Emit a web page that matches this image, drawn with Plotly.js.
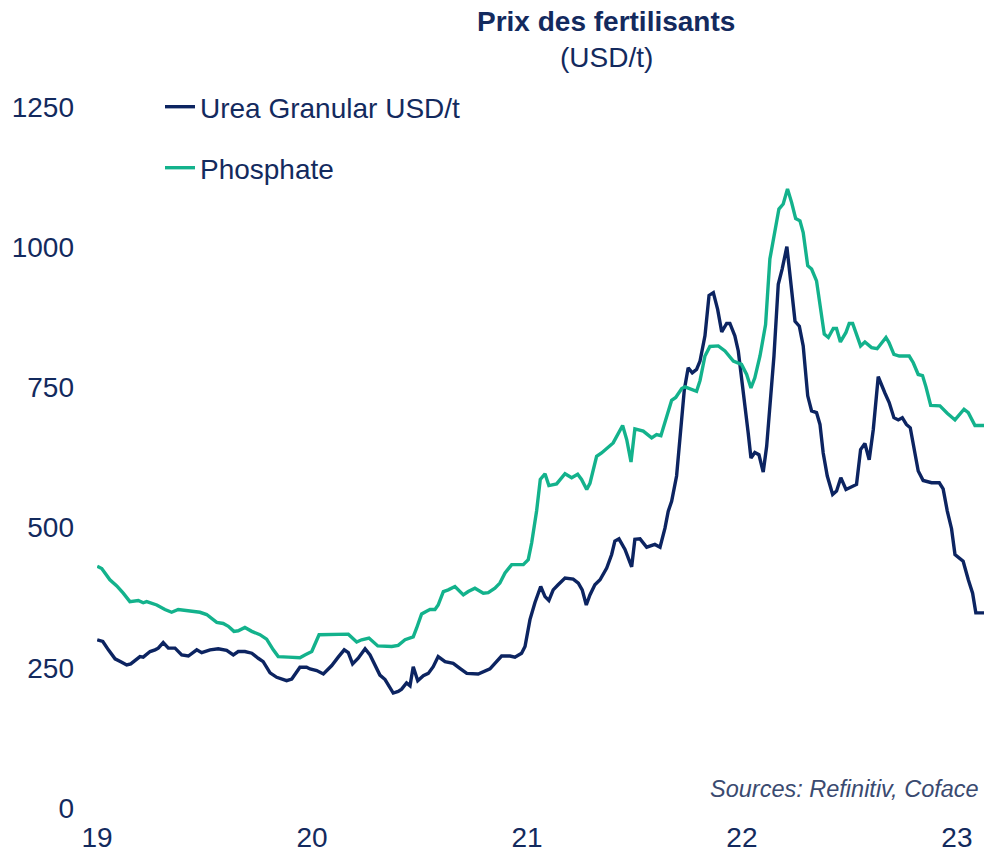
<!DOCTYPE html>
<html>
<head>
<meta charset="utf-8">
<script src="https://cdn.plot.ly/plotly-3.0.1.min.js"></script>
<style>html,body{margin:0;padding:0;background:#fff;}#chart{width:984px;height:853px;}</style>
</head>
<body>
<div id="chart"></div>
<script>
// x in years (19 = Jan 2019), y in USD/t
const ureaX = [19.001,19.027,19.053,19.084,19.115,19.138,19.157,19.177,19.200,19.215,19.247,19.270,19.285,19.308,19.332,19.363,19.394,19.425,19.464,19.487,19.526,19.564,19.603,19.634,19.657,19.688,19.720,19.750,19.773,19.805,19.836,19.882,19.906,19.944,19.975,19.991,20.022,20.053,20.092,20.122,20.150,20.169,20.189,20.215,20.247,20.270,20.293,20.316,20.340,20.378,20.401,20.417,20.440,20.456,20.471,20.492,20.518,20.541,20.564,20.587,20.619,20.657,20.688,20.720,20.773,20.828,20.851,20.882,20.921,20.944,20.975,20.991,21.014,21.037,21.064,21.084,21.102,21.122,21.145,21.177,21.215,21.239,21.257,21.276,21.293,21.316,21.340,21.371,21.394,21.409,21.428,21.456,21.471,21.487,21.502,21.526,21.557,21.595,21.619,21.642,21.657,21.673,21.696,21.712,21.732,21.750,21.769,21.789,21.805,21.828,21.847,21.867,21.887,21.906,21.929,21.944,21.967,21.983,21.998,22.014,22.029,22.042,22.060,22.079,22.099,22.115,22.130,22.149,22.169,22.187,22.209,22.231,22.247,22.267,22.285,22.306,22.324,22.347,22.363,22.378,22.397,22.422,22.440,22.460,22.484,22.533,22.552,22.572,22.592,22.611,22.634,22.665,22.685,22.707,22.727,22.746,22.765,22.783,22.803,22.820,22.843,22.882,22.918,22.936,22.955,22.975,22.991,23.029,23.053,23.073,23.088,23.126];
const ureaY = [300,297,282,266,260,255,257,264,270,269,279,282,285,295,285,285,273,271,282,277,282,284,281,273,279,279,276,267,261,241,233,227,230,251,251,248,245,239,254,269,282,277,257,267,284,273,255,237,229,205,208,212,223,218,252,227,236,240,252,270,261,258,249,240,239,248,258,271,271,269,276,288,336,366,395,377,370,389,398,410,408,401,389,362,380,398,407,428,452,476,480,461,446,430,479,480,465,470,465,499,529,547,592,657,746,785,776,782,797,842,914,919,889,849,864,864,842,815,770,723,669,624,634,630,599,645,723,806,934,961,1001,931,868,859,824,735,708,705,684,633,592,559,565,589,568,577,639,650,621,675,769,740,723,696,692,696,684,678,636,601,584,580,580,569,530,498,452,440,407,383,348,348];

const phosX = [19.001,19.022,19.060,19.092,19.122,19.153,19.192,19.215,19.231,19.262,19.278,19.316,19.347,19.378,19.433,19.479,19.510,19.557,19.587,19.611,19.637,19.657,19.688,19.720,19.758,19.789,19.820,19.843,19.890,19.944,19.967,19.999,20.033,20.092,20.169,20.208,20.231,20.265,20.306,20.371,20.401,20.433,20.456,20.471,20.487,20.510,20.533,20.549,20.572,20.587,20.611,20.634,20.665,20.704,20.727,20.758,20.797,20.820,20.851,20.874,20.898,20.929,20.983,21.006,21.022,21.045,21.062,21.084,21.102,21.138,21.177,21.208,21.236,21.254,21.278,21.293,21.324,21.347,21.401,21.425,21.445,21.464,21.484,21.502,21.541,21.580,21.603,21.623,21.650,21.673,21.692,21.720,21.735,21.789,21.805,21.828,21.851,21.890,21.921,21.960,21.998,22.022,22.042,22.060,22.084,22.110,22.130,22.153,22.172,22.192,22.212,22.231,22.250,22.270,22.285,22.306,22.324,22.347,22.363,22.383,22.402,22.425,22.440,22.458,22.484,22.499,22.515,22.533,22.552,22.572,22.603,22.629,22.670,22.684,22.707,22.732,22.778,22.797,22.820,22.840,22.856,22.878,22.921,22.955,22.991,23.033,23.053,23.084,23.126];
const phosY = [431,427,407,396,383,368,370,366,368,364,362,354,349,354,352,349,345,331,329,324,315,316,322,315,309,301,282,270,269,268,273,279,309,310,310,296,300,303,289,288,290,300,303,305,321,346,351,354,354,362,386,389,395,380,386,392,383,384,392,401,419,434,434,443,473,530,586,596,575,578,596,589,595,586,568,579,627,633,651,669,682,657,617,676,672,660,666,664,696,727,732,748,751,743,762,806,823,824,815,797,791,773,749,767,806,862,979,1032,1068,1077,1104,1080,1051,1047,1026,967,961,940,895,845,839,855,855,831,848,864,864,845,824,831,821,819,839,830,809,806,806,794,773,771,751,718,717,704,692,711,705,682,682];

const names = ['Urea Granular USD/t', 'Phosphate'];
const yTicks = [0, 250, 500, 750, 1000, 1250];
const xTicks = [19, 20, 21, 22, 23];

const navy = '#0c2461';
const green = '#13b28c';
const textCol = '#132a5e';
const FONT = '"Liberation Sans", Arial, sans-serif';

const traces = [
  {x: ureaX, y: ureaY, name: names[0], type: 'scatter', mode: 'lines',
   line: {color: navy, width: 3.4}, legend: 'legend'},
  {x: phosX, y: phosY, name: names[1], type: 'scatter', mode: 'lines',
   line: {color: green, width: 3.4}, legend: 'legend2'}
];

const legendBase = {xanchor: 'left', yanchor: 'middle', bgcolor: 'rgba(0,0,0,0)',
  font: {family: FONT, size: 28, color: textCol}, borderwidth: 0};

const layout = {
  width: 984, height: 853,
  margin: {l: 97, r: 0, t: 107, b: 45},
  paper_bgcolor: '#fff', plot_bgcolor: '#fff',
  font: {family: FONT, color: textCol, size: 28},
  xaxis: {range: [19, 23.126], tickvals: xTicks, showgrid: false, zeroline: false,
          showline: false, ticks: '', ticklabelstandoff: 10,
          tickfont: {family: FONT, size: 28, color: textCol}},
  yaxis: {range: [0, 1250], tickvals: yTicks, showgrid: false, zeroline: false,
          showline: false, ticks: '', ticklabelstandoff: 22,
          tickfont: {family: FONT, size: 28, color: textCol}},
  showlegend: true,
  legend: Object.assign({x: 0.071, y: 1.0}, legendBase),
  legend2: Object.assign({x: 0.071, y: 0.913}, legendBase),
  annotations: [
    {text: '<b>Prix des fertilisants</b>', xref: 'paper', yref: 'paper',
     x: 0.574, y: 1.1213, xanchor: 'center', yanchor: 'middle', showarrow: false,
     font: {family: FONT, size: 28, color: textCol}},
    {text: '(USD/t)', xref: 'paper', yref: 'paper',
     x: 0.574, y: 1.0713, xanchor: 'center', yanchor: 'middle', showarrow: false,
     font: {family: FONT, size: 28, color: textCol}},
    {text: '<i>Sources: Refinitiv, Coface</i>', xref: 'paper', yref: 'paper',
     x: 1, y: 0.027, xanchor: 'right', yanchor: 'middle', xshift: -3, showarrow: false,
     font: {family: FONT, size: 23.5, color: '#3a4a70'}}
  ]
};

Plotly.newPlot('chart', traces, layout, {displayModeBar: false, staticPlot: true});
</script>
</body>
</html>
